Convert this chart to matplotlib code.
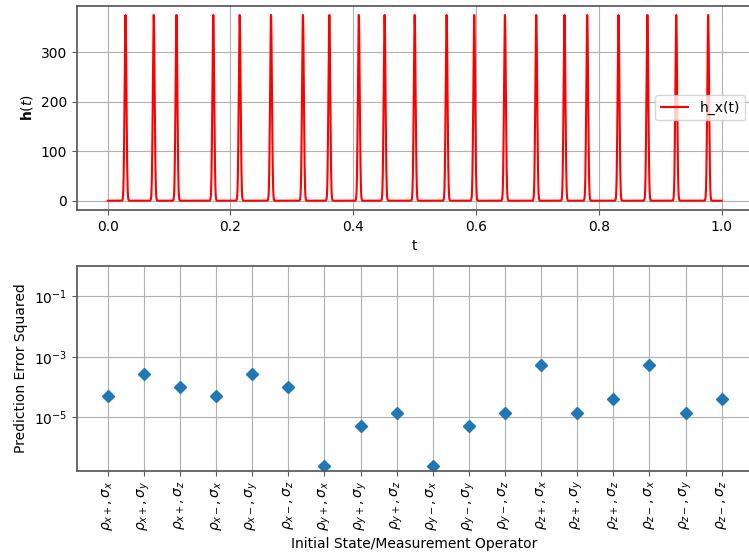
import numpy as np
import matplotlib
matplotlib.use("Agg")
import matplotlib.pyplot as plt
from matplotlib.ticker import FixedLocator, NullLocator

# pulse centres of h_x(t)
pulse_t = [0.029, 0.075, 0.112, 0.172, 0.215, 0.266, 0.318, 0.361, 0.409, 0.451,
           0.500, 0.552, 0.597, 0.647, 0.698, 0.744, 0.781, 0.832, 0.879, 0.926, 0.978]
pulse_height = 375.0
pulse_width = 0.0015

states = ["x+", "x+", "x+", "x-", "x-", "x-", "y+", "y+", "y+",
          "y-", "y-", "y-", "z+", "z+", "z+", "z-", "z-", "z-"]
operators = ["x", "y", "z"] * 6
errors = [5.0e-5, 2.7e-4, 9.8e-5, 5.0e-5, 2.7e-4, 9.8e-5,
          2.4e-7, 5.1e-6, 1.36e-5, 2.4e-7, 5.1e-6, 1.36e-5,
          5.4e-4, 1.36e-5, 4.0e-5, 5.4e-4, 1.36e-5, 4.0e-5]
err_ticks = [1e-5, 1e-3, 1e-1]

labels = []
for s, o in zip(states, operators):
    labels.append(r"$\rho_{%s%s}, \sigma_%s$" % (s[0], s[1], o))

plt.rcParams["axes.edgecolor"] = "0.35"
plt.rcParams["axes.linewidth"] = 1.25
plt.rcParams["xtick.color"] = "0.35"
plt.rcParams["ytick.color"] = "0.35"
plt.rcParams["xtick.labelcolor"] = "black"
plt.rcParams["ytick.labelcolor"] = "black"

fig = plt.figure(figsize=(7.49, 5.58), dpi=100)

ax1 = fig.add_axes([0.1028, 0.6237, 0.9017, 0.3661])
t = np.linspace(0, 1, 4001)
h = np.zeros_like(t)
for c in pulse_t:
    h += pulse_height * np.exp(-0.5 * ((t - c) / pulse_width) ** 2)
ax1.plot(t, h, color="red", label="h_x(t)")
ax1.set_xlabel("t")
ax1.set_ylabel(r"$\mathbf{h}(t)$")
ax1.legend(loc="center right")
ax1.grid(True)

ax2 = fig.add_axes([0.1028, 0.1565, 0.9017, 0.3668])
x = np.arange(len(errors))
ax2.plot(x, errors, "D", color="tab:blue")
ax2.set_yscale("log")
ax2.set_ylim(1.7e-7, 1)
ax2.yaxis.set_major_locator(FixedLocator(err_ticks))
ax2.yaxis.set_minor_locator(NullLocator())
ax2.set_xlim(-0.85, len(errors) - 1 + 0.85)
ax2.set_xticks(x)
ax2.set_xticklabels(labels, rotation=90)
ax2.set_xlabel("Initial State/Measurement Operator")
ax2.set_ylabel("Prediction Error Squared")
ax2.grid(True)

fig.savefig("out.png", dpi=100)
